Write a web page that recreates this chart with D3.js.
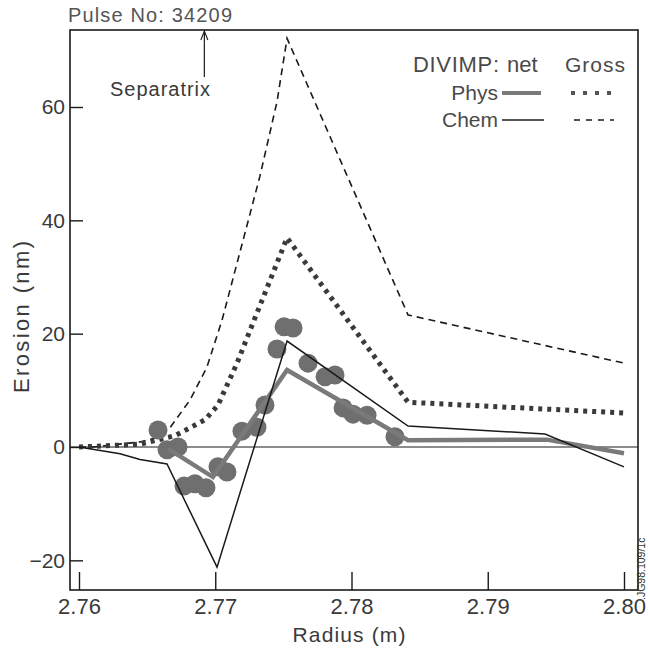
<!DOCTYPE html>
<html><head><meta charset="utf-8">
<script src="https://cdn.jsdelivr.net/npm/d3@7"></script>
<style>
html,body{margin:0;padding:0;background:#fff;}
svg{display:block;font-family:"Liberation Sans",Arial,sans-serif;}
</style></head>
<body><svg id="c" width="648" height="655"></svg>
<script>
// ---- data ----
const xTicks = [2.76, 2.77, 2.78, 2.79, 2.80];
const xTickLabels = ["2.76", "2.77", "2.78", "2.79", "2.80"];
const yTicks = [-20, 0, 20, 40, 60];
const yTickLabels = ["\u221220", "0", "20", "40", "60"];

const chemGrossR = [2.76, 2.76103, 2.76448, 2.76594, 2.76668, 2.76815, 2.76939, 2.77050, 2.77328, 2.77453, 2.77527, 2.78415, 2.80];
const chemGrossV = [0, 0, 0.9, 1.8, 3.4, 8.3, 14.1, 22.4, 47.8, 60.9, 72.1, 23.3, 14.8];

const physGrossR = [2.76, 2.76448, 2.76705, 2.76925, 2.77020, 2.77160, 2.77277, 2.77527, 2.78415, 2.80];
const physGrossV = [0, 0.5, 2.0, 4.8, 7.4, 14.8, 21.9, 36.9, 7.9, 6.0];

const chemNetR = [2.76, 2.76301, 2.76448, 2.76646, 2.77013, 2.77527, 2.78415, 2.79420, 2.80];
const chemNetV = [0, -1.2, -2.2, -3.0, -21.2, 18.7, 3.7, 2.3, -3.5];

const physNetR = [2.76653, 2.76983, 2.77527, 2.78415, 2.79435, 2.80];
const physNetV = [-0.3, -5.3, 13.6, 1.2, 1.3, -1.1];

const measR = [2.76580, 2.76646, 2.76727, 2.76771, 2.76851, 2.76932, 2.77020, 2.77086, 2.77196, 2.77306, 2.77365, 2.77453, 2.77505, 2.77571, 2.77681, 2.77806, 2.77879, 2.77938, 2.78011, 2.78114, 2.78319];
const measV = [3.0, -0.5, 0.0, -6.9, -6.5, -7.2, -3.5, -4.4, 2.8, 3.5, 7.4, 17.3, 21.2, 21.0, 14.8, 12.4, 12.7, 6.9, 5.8, 5.6, 1.8];

const separatrixR = 2.76920;

// ---- layout ----
const svg = d3.select("#c");
const L = 70, R = 638, T = 30, B = 590;
const x = d3.scaleLinear().domain([2.76, 2.80]).range([79, 624]);
const y = d3.scaleLinear().domain([0, 60]).range([447, 107]);
const ink = "#1a1a1a";
const txt = "#3a3a3a";

const zip = (a, b) => a.map((d, i) => [d, b[i]]);
const line = d3.line().x(d => x(d[0])).y(d => y(d[1]));

// frame
svg.append("rect").attr("x", L).attr("y", T).attr("width", R - L).attr("height", B - T)
  .attr("fill", "none").attr("stroke", ink).attr("stroke-width", 1.6);

// ticks (inside)
const gx = svg.append("g").attr("transform", `translate(0,${B})`)
  .call(d3.axisBottom(x).tickValues(xTicks).tickSize(-18).tickFormat((d, i) => xTickLabels[i]));
gx.select(".domain").remove();
gx.selectAll("line").attr("stroke", ink).attr("stroke-width", 1.4);
gx.selectAll("text").attr("font-size", 22).attr("fill", txt).attr("y", 24).attr("dy", 0);

const gy = svg.append("g").attr("transform", `translate(${L},0)`)
  .call(d3.axisLeft(y).tickValues(yTicks).tickSize(-13).tickFormat((d, i) => yTickLabels[i]).tickPadding(5));
gy.select(".domain").remove();
gy.selectAll("line").attr("stroke", ink).attr("stroke-width", 1.4);
gy.selectAll("text").attr("font-size", 21).attr("fill", txt);

// zero line
svg.append("line").attr("x1", L).attr("x2", R).attr("y1", y(0)).attr("y2", y(0))
  .attr("stroke", ink).attr("stroke-width", 1.1);

// series
svg.append("path").attr("d", line(zip(chemGrossR, chemGrossV)))
  .attr("fill", "none").attr("stroke", ink).attr("stroke-width", 1.6).attr("stroke-dasharray", "7,5");
svg.append("path").attr("d", line(zip(physGrossR, physGrossV)))
  .attr("fill", "none").attr("stroke", "#3a3a3a").attr("stroke-width", 5).attr("stroke-dasharray", "4,5");

// measured points
svg.append("g").selectAll("circle").data(zip(measR, measV)).join("circle")
  .attr("cx", d => x(d[0])).attr("cy", d => y(d[1])).attr("r", 9.5)
  .attr("fill", "#6f6f6f");

svg.append("path").attr("d", line(zip(physNetR, physNetV)))
  .attr("fill", "none").attr("stroke", "#7a7a7a").attr("stroke-width", 4.5);
svg.append("path").attr("d", line(zip(chemNetR, chemNetV)))
  .attr("fill", "none").attr("stroke", ink).attr("stroke-width", 1.5);

// axis titles
svg.append("text").attr("x", 349).attr("y", 642).attr("text-anchor", "middle")
  .attr("font-size", 21).attr("fill", txt).attr("textLength", 113).attr("lengthAdjust", "spacing").text("Radius (m)");
svg.append("text").attr("transform", "translate(29,317) rotate(-90)").attr("text-anchor", "middle")
  .attr("font-size", 22).attr("fill", txt).attr("textLength", 152).attr("lengthAdjust", "spacing").text("Erosion (nm)");

// header
svg.append("text").attr("x", 68).attr("y", 22).attr("font-size", 20).attr("fill", "#555")
  .attr("textLength", 164).attr("lengthAdjust", "spacing").text("Pulse No: 34209");

// separatrix annotation
const sx = x(separatrixR);
svg.append("line").attr("x1", sx).attr("x2", sx).attr("y1", 77).attr("y2", 33)
  .attr("stroke", ink).attr("stroke-width", 1.2);
svg.append("path").attr("d", `M${sx - 3.5},${40} L${sx},${31} L${sx + 3.5},${40}`)
  .attr("fill", "none").attr("stroke", ink).attr("stroke-width", 1.1);
svg.append("text").attr("x", 110).attr("y", 96).attr("font-size", 20).attr("fill", txt)
  .attr("textLength", 100).attr("lengthAdjust", "spacing").text("Separatrix");

// legend
const lg = svg.append("g").attr("font-size", 21).attr("fill", "#4a4a4a");
lg.append("text").attr("x", 413).attr("y", 72).attr("font-size", 22).attr("textLength", 86).attr("lengthAdjust", "spacing").text("DIVIMP:");
lg.append("text").attr("x", 507).attr("y", 72).attr("font-size", 22).text("net");
lg.append("text").attr("x", 565).attr("y", 72).attr("textLength", 60).attr("lengthAdjust", "spacing").text("Gross");
lg.append("text").attr("x", 498).attr("y", 100).attr("text-anchor", "end").text("Phys");
lg.append("text").attr("x", 498).attr("y", 127).attr("text-anchor", "end").text("Chem");
svg.append("line").attr("x1", 502).attr("x2", 541).attr("y1", 93).attr("y2", 93)
  .attr("stroke", "#7a7a7a").attr("stroke-width", 4);
svg.append("line").attr("x1", 571).attr("x2", 614).attr("y1", 93).attr("y2", 93)
  .attr("stroke", "#555").attr("stroke-width", 4).attr("stroke-dasharray", "4,8");
svg.append("line").attr("x1", 502).attr("x2", 544).attr("y1", 120).attr("y2", 120)
  .attr("stroke", ink).attr("stroke-width", 1.4);
svg.append("line").attr("x1", 574).attr("x2", 614).attr("y1", 120).attr("y2", 120)
  .attr("stroke", ink).attr("stroke-width", 1.4).attr("stroke-dasharray", "6,6");

// figure code
svg.append("text").attr("transform", "translate(645,600) rotate(-90)")
  .attr("font-size", 10.5).attr("fill", "#333").text(".JG98.109/1c");
</script></body></html>
